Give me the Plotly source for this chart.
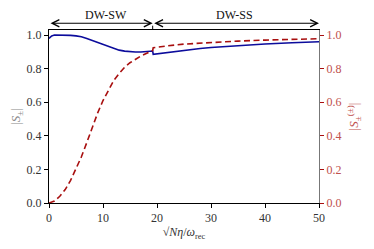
import plotly.graph_objects as go

# Blue solid curve |S_±| (left axis)
t_blue = [0, 0.5, 1, 2, 3, 4, 5, 6, 7, 8, 9, 10, 11, 12, 13, 14, 15, 16, 17, 18, 19.2,
          19.3, 20, 22, 25, 28, 30, 35, 40, 45, 50]
s_blue = [0.98, 0.995, 1.0, 1.0, 1.0, 0.998, 0.995, 0.99, 0.98, 0.968, 0.955, 0.942, 0.93,
          0.918, 0.91, 0.904, 0.9, 0.899, 0.899, 0.9, 0.905,
          0.885, 0.888, 0.897, 0.91, 0.92, 0.926, 0.938, 0.947, 0.954, 0.96]

# Red dashed curve |S_±^(±)| (right axis)
t_red = [0, 1, 2, 3, 4, 5, 6, 7, 8, 9, 10, 11, 12, 13, 14, 15, 16, 17, 18, 19.2,
         19.3, 20, 22, 25, 30, 35, 40, 45, 50]
s_red = [0.0, 0.012, 0.04, 0.08, 0.135, 0.2, 0.275, 0.36, 0.45, 0.535, 0.61, 0.675, 0.73,
         0.772, 0.808, 0.835, 0.857, 0.875, 0.89, 0.908,
         0.924, 0.928, 0.936, 0.946, 0.956, 0.964, 0.97, 0.975, 0.978]

x_ticks = [0, 10, 20, 30, 40, 50]
y_ticks = [0.0, 0.2, 0.4, 0.6, 0.8, 1.0]
y_tick_text = ["0.0", "0.2", "0.4", "0.6", "0.8", "1.0"]

boundary = 19.2
x_max = 50
regions = ["DW-SW", "DW-SS"]
region_text_x = [10.5, 34.3]

FONT = "Liberation Serif, DejaVu Serif, serif"
BLUE = "#0c0c9c"
RED = "#a80f0f"
RED_LIGHT = "#c0504d"

fig = go.Figure()
fig.add_trace(go.Scatter(x=t_blue, y=s_blue, mode="lines",
                         line=dict(color=BLUE, width=1.6), yaxis="y", showlegend=False))
fig.add_trace(go.Scatter(x=t_red, y=s_red, mode="lines",
                         line=dict(color=RED, width=1.6, dash="6px,3.5px"), yaxis="y2",
                         showlegend=False))

# the page body has an 8px margin, so the figure is drawn 8px in from the window edges
fig.update_layout(
    width=366, height=241,
    margin=dict(l=41, r=55, t=22, b=46, autoexpand=False),
    plot_bgcolor="white", paper_bgcolor="white",
    font=dict(family=FONT, size=12, color="#333333"),
    xaxis=dict(range=[0, x_max], tickvals=x_ticks, ticks="outside", ticklen=4,
               tickcolor="black", showline=True, linecolor="black", linewidth=1,
               mirror=True, showgrid=False, zeroline=False, automargin=False,
               tickfont=dict(family=FONT, size=12, color="#333333"),
               title=dict(text="√<i>Nη</i>/<i>ω</i><sub>rec</sub>",
                          font=dict(family=FONT, size=12, color="#333333"), standoff=2)),
    yaxis=dict(range=[0, 1.03], tickvals=y_ticks, ticktext=y_tick_text, ticks="outside",
               ticklen=4, tickcolor="black", showline=True, linecolor="black", linewidth=1,
               showgrid=False, zeroline=False, automargin=False,
               tickfont=dict(family=FONT, size=12, color="#333333"),
               title=dict(text="|<i>S</i><sub>±</sub>|",
                          font=dict(family=FONT, size=13, color="#888888"), standoff=8)),
    yaxis2=dict(range=[0, 1.03], tickvals=y_ticks, ticktext=y_tick_text, overlaying="y",
                side="right", ticks="outside", ticklen=4, tickcolor=RED, showline=True,
                linecolor="#777777", linewidth=1, showgrid=False, zeroline=False,
                automargin=False,
                tickfont=dict(family=FONT, size=12, color=RED_LIGHT),
                title=dict(text="|<i>S</i><sub>±</sub><sup>(±)</sup>|",
                           font=dict(family=FONT, size=13, color=RED_LIGHT), standoff=8)),
)

arrow_y = 1.039
spans = [(0, boundary), (boundary, x_max)]
for (a, b) in spans:
    fig.add_annotation(x=b, y=arrow_y, xref="x", yref="paper",
                       ax=a, ay=0, axref="x", ayref="pixel",
                       showarrow=True, arrowhead=5, startarrowhead=5,
                       arrowside="end+start", arrowsize=1.3, startarrowsize=1.3,
                       arrowwidth=1.1, arrowcolor="black", text="")

for label, xt in zip(regions, region_text_x):
    fig.add_annotation(x=xt, y=1.086, xref="x", yref="paper", text=label,
                       showarrow=False, font=dict(family=FONT, size=12, color="#111111"),
                       yanchor="middle")

fig.add_shape(type="line", xref="x", yref="paper", x0=boundary, x1=boundary,
              y0=1.0, y1=1.025, line=dict(color="black", width=1))

fig.write_html("out.html")
